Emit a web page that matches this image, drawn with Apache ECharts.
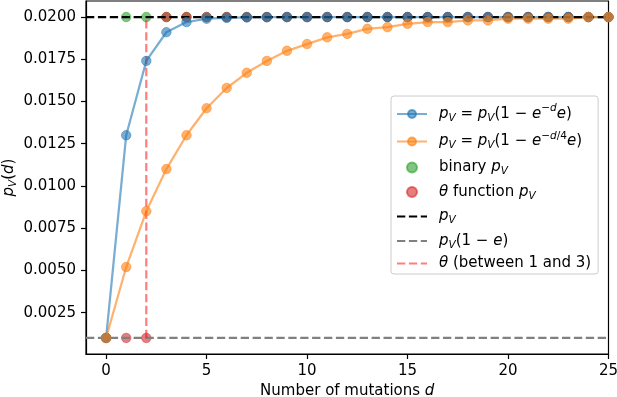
<!DOCTYPE html>
<html>
<head>
<meta charset="utf-8">
<script src="https://cdn.jsdelivr.net/npm/echarts@6/dist/echarts.min.js"></script>
<style>
  html, body { margin: 0; padding: 0; background: #fff; }
  #chart { width: 617px; height: 397px; }
</style>
</head>
<body>
<div id="chart"></div>
<script>
// number of mutations d
const mutations = [0, 1, 2, 3, 4, 5, 6, 7, 8, 9, 10, 11, 12, 13, 14, 15, 16, 17, 18, 19, 20, 21, 22, 23, 24, 25];
// p_V(1 - e^{-d} e)
const fastDecay = [0.0010, 0.0130, 0.0174, 0.0191, 0.0197, 0.0199, 0.01995, 0.01998, 0.01999, 0.0200,
  0.0200, 0.0200, 0.0200, 0.0200, 0.0200, 0.0200, 0.0200, 0.0200, 0.0200, 0.0200,
  0.0200, 0.0200, 0.0200, 0.0200, 0.0200, 0.0200];
// p_V(1 - e^{-d/4} e)
const slowDecay = [0.0010, 0.0052, 0.0085, 0.0110, 0.0130, 0.0146, 0.0158, 0.0167, 0.0174, 0.0180,
  0.0184, 0.0188, 0.0190, 0.0193, 0.0194, 0.0196, 0.0197, 0.0197, 0.0198, 0.0198,
  0.0199, 0.0199, 0.0199, 0.0199, 0.0200, 0.0200];
// binary p_V
const binaryPV = [0.0010, 0.0200, 0.0200, 0.0200, 0.0200, 0.0200, 0.0200, 0.0200, 0.0200, 0.0200,
  0.0200, 0.0200, 0.0200, 0.0200, 0.0200, 0.0200, 0.0200, 0.0200, 0.0200, 0.0200,
  0.0200, 0.0200, 0.0200, 0.0200, 0.0200, 0.0200];
// theta function p_V
const thetaPV = [0.0010, 0.0010, 0.0010, 0.0200, 0.0200, 0.0200, 0.0200, 0.0200, 0.0200, 0.0200,
  0.0200, 0.0200, 0.0200, 0.0200, 0.0200, 0.0200, 0.0200, 0.0200, 0.0200, 0.0200,
  0.0200, 0.0200, 0.0200, 0.0200, 0.0200, 0.0200];

const pV = 0.02;        // upper dashed line
const pVe = 0.001;      // p_V(1 - e)
const thetaX = 2;       // theta, between 1 and 3

const X_MIN = -1, X_MAX = 25;
const Y_MIN = 0.00005, Y_MAX = 0.02095;
const xTicks = [0, 5, 10, 15, 20, 25];
const yTicks = [0.0025, 0.0050, 0.0075, 0.0100, 0.0125, 0.0150, 0.0175, 0.0200];

const FONT = "'DejaVu Sans', 'Liberation Sans', sans-serif";
const DASH = [8.3, 3.6];
const BLUE = '#1f77b4', ORANGE = '#ff7f0e', GREEN = '#2ca02c', RED = '#d62728';

const rich = {
  n:    { fontFamily: FONT, fontSize: 15, color: '#000', lineHeight: 21 },
  i:    { fontFamily: FONT, fontSize: 15, color: '#000', lineHeight: 21, fontStyle: 'italic' },
  sub:  { fontFamily: FONT, fontSize: 10.5, color: '#000', lineHeight: 21, fontStyle: 'italic', padding: [8, 0, 0, 0] },
  supn: { fontFamily: FONT, fontSize: 10.5, color: '#000', lineHeight: 24, padding: [0, 0, 11, 0] },
  supi: { fontFamily: FONT, fontSize: 10.5, color: '#000', lineHeight: 24, fontStyle: 'italic', padding: [0, 0, 11, 0] },
  sp:   { fontFamily: FONT, fontSize: 15, width: 7, lineHeight: 21 },
};

const PV = '{i|p}{sub|V}';
const legendLabels = {
  fast: PV + '{n| = }' + PV + '{n|(1 − }{i|e}{supn|−}{supi|d}{i|e}{n|)}',
  slow: PV + '{n| = }' + PV + '{n|(1 − }{i|e}{supn|−}{supi|d}{supn|/4}{i|e}{n|)}',
  binary: '{n|binary }' + PV,
  theta: '{i|θ}{n| function }' + PV,
  pv: PV,
  pve: PV + '{n|(1 − }{i|e}{n|)}',
  thetaLine: '{i|θ}{n| (between 1 and 3)}',
};

const pairs = (ys) => mutations.map((d, k) => [d, ys[k]]);

function markerSeries(name, ys, color, withLine) {
  return {
    name, type: withLine ? 'line' : 'scatter',
    data: pairs(ys),
    symbol: 'circle', symbolSize: 9.5, showSymbol: true,
    lineStyle: { color, width: 2.25, opacity: 0.6 },
    itemStyle: { color, opacity: 0.6, borderColor: color, borderWidth: 0.8 },
    emphasis: { disabled: true },
  };
}

function dashedSeries(name, data, color, opacity) {
  return {
    name, type: 'line', data,
    symbol: 'none',
    lineStyle: { color, width: 2.25, type: DASH, opacity },
    itemStyle: { color, opacity },
    emphasis: { disabled: true },
  };
}

const chart = echarts.init(document.getElementById('chart'), null, { renderer: 'canvas' });

chart.setOption({
  animation: false,
  textStyle: { fontFamily: FONT },
  grid: {
    left: 86, right: 8.5, top: 1, bottom: 43,
    outerBoundsMode: 'none', containLabel: false,
    show: true, borderColor: '#000', borderWidth: 1.2, backgroundColor: 'transparent',
  },
  xAxis: {
    type: 'value', min: X_MIN, max: X_MAX,
    name: '{n|Number of mutations }{i|d}', nameLocation: 'middle', nameGap: 27, nameMoveOverlap: false,
    nameTextStyle: { rich },
    axisLine: { show: true, onZero: false, lineStyle: { color: '#000', width: 1.2 } },
    axisTick: { show: true, length: 5, lineStyle: { color: '#000', width: 1.2 }, customValues: xTicks },
    axisLabel: { color: '#000', fontSize: 15, fontFamily: FONT, margin: 10, customValues: xTicks },
    splitLine: { show: false },
  },
  yAxis: {
    type: 'value', min: Y_MIN, max: Y_MAX,
    name: PV + '{n|(}{i|d}{n|)}', nameLocation: 'middle', nameGap: 66, nameRotate: 90, nameMoveOverlap: false,
    nameTextStyle: { rich },
    axisLine: { show: true, onZero: false, lineStyle: { color: '#000', width: 1.2 } },
    axisTick: { show: true, length: 5, lineStyle: { color: '#000', width: 1.2 }, customValues: yTicks },
    axisLabel: { color: '#000', fontSize: 15, fontFamily: FONT, margin: 10, customValues: yTicks,
      formatter: (v) => v.toFixed(4) },
    splitLine: { show: false },
  },
  legend: {
    orient: 'vertical', left: 391, top: 96,
    padding: [7, 7, 3, 5], itemGap: 5.5, itemWidth: 30, itemHeight: 10,
    backgroundColor: 'rgba(255,255,255,0.8)', borderColor: '#cccccc', borderWidth: 1, borderRadius: 3,
    textStyle: { fontFamily: FONT, fontSize: 15, color: '#000', rich },
    formatter: (name) => '{sp| }' + legendLabels[name],
    data: [
      { name: 'fast' }, { name: 'slow' }, { name: 'binary' }, { name: 'theta' },
      { name: 'pv', itemStyle: { opacity: 0 } },
      { name: 'pve', itemStyle: { opacity: 0 } },
      { name: 'thetaLine', itemStyle: { opacity: 0 } },
    ],
  },
  series: [
    markerSeries('fast', fastDecay, BLUE, true),
    markerSeries('slow', slowDecay, ORANGE, true),
    markerSeries('binary', binaryPV, GREEN, false),
    markerSeries('theta', thetaPV, RED, false),
    dashedSeries('pv', [[X_MIN, pV], [X_MAX, pV]], '#000', 1),
    dashedSeries('pve', [[X_MIN, pVe], [X_MAX, pVe]], '#808080', 1),
    dashedSeries('thetaLine', [[thetaX, pVe], [thetaX, pV]], '#ff0000', 0.5),
  ],
});
</script>
</body>
</html>
